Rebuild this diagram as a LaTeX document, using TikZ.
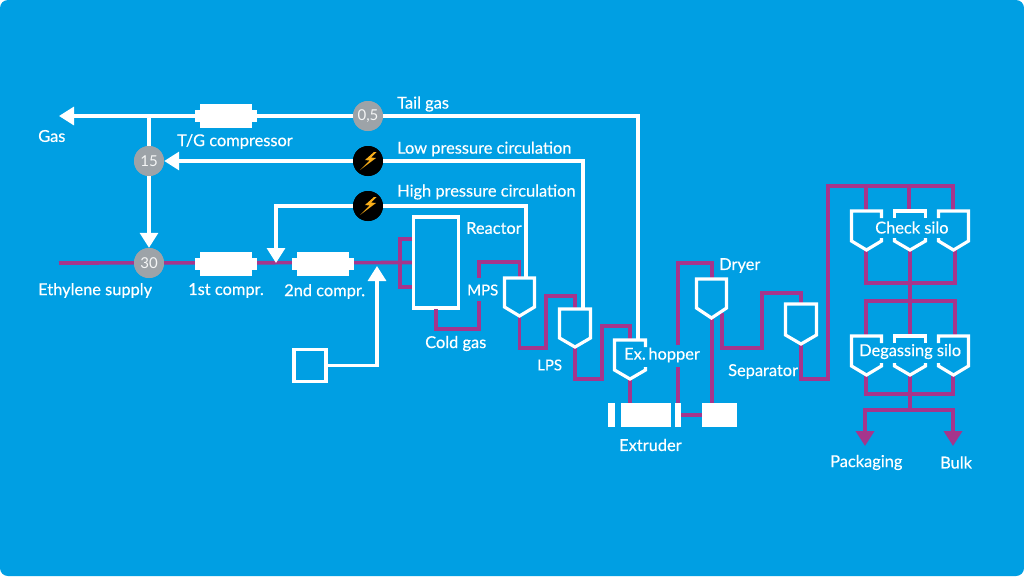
\documentclass[tikz,border=0pt]{standalone}
\usepackage{fontspec}
\setmainfont{Lato}
\newfontfamily\labelfont[FakeBold=0.35]{Lato}
\usetikzlibrary{arrows.meta}
\definecolor{bgblue}{HTML}{009FE3}
\definecolor{flow}{HTML}{A5358C}
\definecolor{valve}{HTML}{9DA3A8}
\definecolor{bolt}{HTML}{F9AE1A}
\tikzset{
  gasline/.style={draw=white,line width=3.2pt},
  gasarrow/.style={gasline,-{Triangle[length=15pt,width=18pt]}},
  polyline/.style={draw=flow,line width=3.6pt},
  polyarrow/.style={polyline,-{Triangle[length=15pt,width=18pt]}},
  label/.style={text=white,anchor=west,inner sep=0pt,font=\labelfont\fontsize{16.4pt}{18pt}\selectfont},
  dial/.style={circle,fill=valve,minimum size=30pt,inner sep=0pt,text=white!90!valve,font=\fontsize{15pt}{16pt}\selectfont},
  pump/.style={circle,fill=black,minimum size=30pt,inner sep=0pt},
  solid box/.style={fill=white,inner sep=0pt,anchor=north west},
  frame/.style={draw=white,line width=3.2pt,line join=miter},
}
% compressor: a body with a narrower collar at each end
\newcommand{\compressor}[3]{%
  \node[solid box,minimum width=52pt,minimum height=24pt,anchor=center] (#1) at (#2,#3) {};
  \node[solid box,minimum width=62pt,minimum height=12pt,anchor=center] (#1c) at (#2,#3) {};
}
% lightning sign on a pump disc
\newcommand{\pumpsign}[3]{%
  \node[pump] (#1) at (#2,#3) {};
  \fill[bolt,shift={(#2,#3)}] (6,-9) -- (-3,-1) -- (1.5,-0.5) -- (-8,9) -- (8,-3) -- (3,-3.5) -- (8.5,-9) -- cycle;
}
% hopper: name, left, right, top, shoulder, tip, opening (none/left/right/both)
\newcommand{\hopper}[7]{%
  \pgfmathsetmacro{\cx}{(#2+#3)/2}
  \coordinate (#1-in) at (\cx,#4);
  \coordinate (#1-out) at (\cx,#6);
  \ifnum#7=0
    \draw[frame] (#2,#4) -- (#3,#4) -- (#3,#5) -- (\cx,#6) -- (#2,#5) -- cycle;
  \fi
  \ifnum#7=1 % open on the right side
    \draw[frame] (#3,#4+7) -- (#3,#4) -- (#2,#4) -- (#2,#5) -- (\cx,#6) -- (#3,#5) -- (#3,#5-3);
  \fi
  \ifnum#7=2 % open on the left side
    \draw[frame] (#2,#4+7) -- (#2,#4) -- (#3,#4) -- (#3,#5) -- (\cx,#6) -- (#2,#5) -- (#2,#5-3);
  \fi
  \ifnum#7=3 % open on both sides
    \draw[frame] (#2,#4+7) -- (#2,#4) -- (#3,#4) -- (#3,#4+7);
    \draw[frame] (#2,#5-3) -- (#2,#5) -- (\cx,#6) -- (#3,#5) -- (#3,#5-3);
  \fi
}
\begin{document}
\begin{tikzpicture}[x=1pt,y=-1pt]
\useasboundingbox (0,0) rectangle (1024,576);
\fill[white] (0,0) rectangle (1024,576);
\fill[bgblue,rounded corners=8pt] (0,0) rectangle (1024,576);

% nodes that the polymer and gas lines attach to
\node[dial] (d30) at (149,263) {30};
\node[dial] (d15) at (149,161) {15};
\node[dial] (d05) at (368,116) {0,5};
\coordinate (gasEnd) at (59,116);
\coordinate (feedStart) at (59,263);
\coordinate (tee) at (149,116);
\coordinate (recycle) at (276,263);
\node[solid box,minimum width=45pt,minimum height=91pt,fill=none,draw=white,line width=3.2pt,anchor=center] (reactor) at (436,262.5) {};
\node[draw=white,line width=3.2pt,inner sep=0pt,minimum size=32pt] (init) at (310,365.5) {};
\coordinate (initTip) at (377,266);

% extruder and pellet dryer blocks
\node[solid box,minimum width=7pt,minimum height=24pt] (xa) at (608,403) {};
\node[solid box,minimum width=50pt,minimum height=24pt] (xb) at (621,403) {};
\node[solid box,minimum width=6pt,minimum height=24pt] (xc) at (675,403) {};
\node[solid box,minimum width=35pt,minimum height=24pt] (xd) at (702,403) {};

% polymer flow
\coordinate (mpsIn) at (519.5,278);
\coordinate (lpsIn) at (575,309);
\coordinate (hopIn) at (630,340);
\coordinate (dryIn) at (712,279);
\coordinate (sepIn) at (801,304);
\draw[polyline] (feedStart) -- (reactor.west);
\draw[polyline] (412,239) -- (400,239) -- (400,287) -- (412,287);
\draw[polyline] (436,309) -- (436,329) -- (479,329) -- (479,301);
\draw[polyline] (479,278) -- (479,262) -- (519.5,262) -- (mpsIn);
\draw[polyline] (519.5,316) -- (519.5,348) -- (546,348) -- (546,296) -- (575,296) -- (lpsIn);
\draw[polyline] (575,347) -- (575,379) -- (602,379) -- (602,326) -- (630,326) -- (hopIn);
\draw[polyline] (630,379) -- (630,403);
\draw[polyline] (678,403) -- (678,367);
\draw[polyline] (678,345) -- (678,263) -- (712,263) -- (dryIn);
\draw[polyline] (712,318) -- (712,403);
\draw[polyline] (xc.east |- 0,415) -- (xd.west |- 0,415);
\draw[polyline] (722,313) -- (722,348) -- (762,348) -- (762,293) -- (801,293) -- (sepIn);
\draw[polyline] (801,344) -- (801,379) -- (828,379) -- (828,186) -- (953,186) -- (953,211);
\draw[polyline] (866,186) -- (866,211);
\draw[polyline] (909,186) -- (909,211);
\draw[polyline] (866,250) -- (866,283) -- (955,283) -- (955,248);
\draw[polyline] (910,250) -- (910,336);
\draw[polyline] (866,336) -- (866,301) -- (955,301) -- (955,336);
\draw[polyline] (866,375) -- (866,394) -- (953,394) -- (953,375);
\draw[polyline] (910,375) -- (910,410);
\draw[polyarrow] (910,410) -- (865,410) -- (865,446);
\draw[polyarrow] (910,410) -- (953,410) -- (953,446);

% compressors and dials sit on top of the feed line
\compressor{ca}{226}{263.5}
\compressor{cb}{322.5}{263.5}
\node[dial] at (d30) {30};

% gas return lines
\draw[gasarrow] (d05) -- (gasEnd);
\draw[gasline] (tee) -- (d15);
\draw[gasarrow] (d15) -- (d30);
\node[pump] (pl) at (368,161) {};
\node[pump] (ph) at (368,206) {};
\draw[gasarrow] (pl) -- (d15);
\draw[gasarrow] (ph) -- (276,206) -- (recycle);
\draw[gasarrow] (init) -- (377,365.5) -- (initTip);
\draw[gasline] (ph) -- (526,206) -- (526,278);
\draw[gasline] (pl) -- (583,161) -- (583,309);
\draw[gasline] (d05) -- (638,116) -- (638,340);
\node[dial] at (d05) {0,5};
\node[dial] at (d15) {15};
\compressor{tg}{226}{116}
\pumpsign{pl}{368}{161}
\pumpsign{ph}{368}{206}

% vessels
\hopper{mps}{504.5}{534.5}{278}{307}{316}{0}
\hopper{lps}{559.5}{590.5}{309}{338}{347}{0}
\hopper{hop}{614.5}{645.5}{340}{370}{379}{1}
\hopper{dry}{696.5}{726.5}{279}{308}{318}{0}
\hopper{sep}{785.5}{816.5}{304}{335}{344}{0}
\hopper{c1}{851.5}{881.5}{211}{241}{250}{1}
\hopper{c2}{894.5}{925.5}{211}{241}{250}{3}
\hopper{c3}{938.5}{968.5}{211}{241}{250}{2}
\hopper{g1}{851.5}{881.5}{336}{366}{375}{1}
\hopper{g2}{894.5}{925.5}{336}{366}{375}{3}
\hopper{g3}{938.5}{968.5}{336}{366}{375}{2}

% labels
\node[label] (t1) at (38,136) {Gas};
\node[label] (t2) at (177,141.5) {T/G compressor};
\node[label] (t3) at (397,104) {Tail gas};
\node[label] (t4) at (397,149) {Low pressure circulation};
\node[label] (t5) at (397,192) {High pressure circulation};
\node[label] (t6) at (466,228) {Reactor};
\node[label] (t7) at (467,290) {\fontsize{15pt}{16pt}\selectfont MPS};
\node[label] (t8) at (425,343.5) {Cold gas};
\node[label] (t9) at (537,365) {\fontsize{15pt}{16pt}\selectfont LPS};
\node[label] (t10) at (624,355) {Ex.\kern-1.5pt\ hopper};
\node[label] (t11) at (719,265.5) {Dryer};
\node[label] (t12) at (728,371.5) {Separator};
\node[label] (t13) at (619,445) {Extruder};
\node[label] (t14) at (875,227.5) {Check silo};
\node[label] (t15) at (859,351.5) {Degassing silo};
\node[label] (t16) at (830,462.5) {Packaging};
\node[label] (t17) at (940,462.5) {Bulk};
\node[label] (t18) at (38,290.5) {Ethylene supply};
\node[label] (t19) at (188,290.5) {1st compr.};
\node[label] (t20) at (284,291.5) {2nd compr.};
\end{tikzpicture}
\end{document}
